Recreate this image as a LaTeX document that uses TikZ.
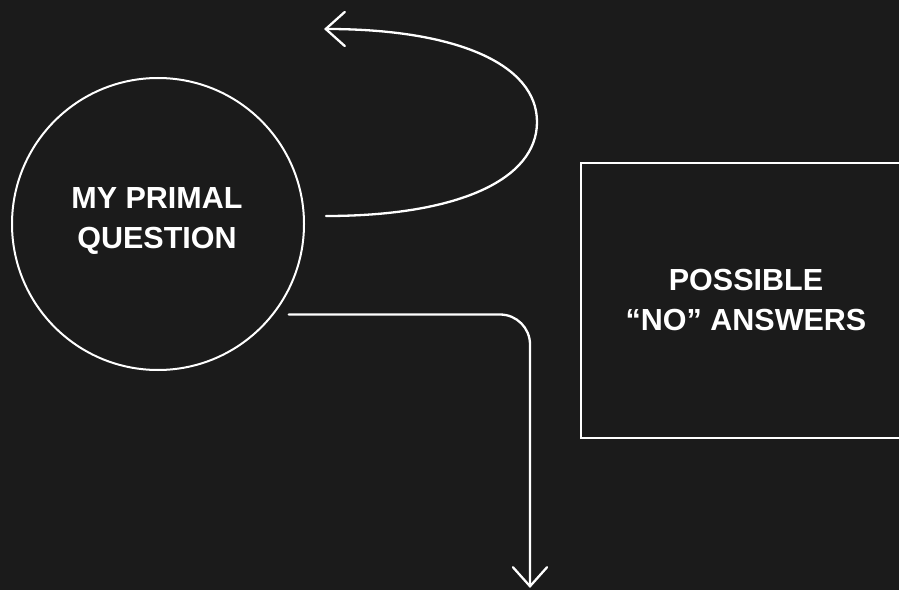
\documentclass[tikz,border=0pt]{standalone}
\usepackage{fontspec}
\setmainfont{Liberation Sans}
\usetikzlibrary{arrows.meta}
\definecolor{bg}{HTML}{1B1B1B}
\begin{document}
\begin{tikzpicture}[x=1pt,y=1pt,
  outline/.style={draw=white, line width=2pt},
  caption/.style={text=white, font=\bfseries\fontsize{30.5}{40.5}\selectfont, align=center, inner sep=0pt},
  flow/.style={draw=white, line width=2.3pt, line cap=round,
    -{Straight Barb[length=19pt,width=34pt,line cap=round]}}
]
  % canvas
  \useasboundingbox (0,0) rectangle (899,590);
  \fill[bg] (0,0) rectangle (899,590);
  \clip (0,0) rectangle (899,590);

  % main question circle
  \node[outline, circle, minimum size=292pt, inner sep=0pt] (q) at (158,366) {};
  \node[caption] (qtext) at (157,369) {MY PRIMAL\\QUESTION};

  % answers box (runs past the right edge)
  \node[outline, rectangle, minimum width=330pt, minimum height=275pt, inner sep=0pt] (ans) at (746,289.5) {};
  \node[caption] (anstext) at (746,290) {POSSIBLE\\“NO” ANSWERS};

  % turning point and free ends of the connectors
  \coordinate (loopturn) at (537,468);
  \coordinate (loopend) at (324,561);
  \coordinate (down) at (530,2);

  % loop back from the question
  \draw[flow] ([xshift=21pt,yshift=8pt]q.east)
    .. controls +(131,0) and +(0,-58) .. (loopturn)
    .. controls +(0,58) and +(132,0) .. (loopend);

  % path leaving the question downward
  \draw[flow, rounded corners=30pt] ([xshift=15pt]q.-38) -| (down);
\end{tikzpicture}
\end{document}
